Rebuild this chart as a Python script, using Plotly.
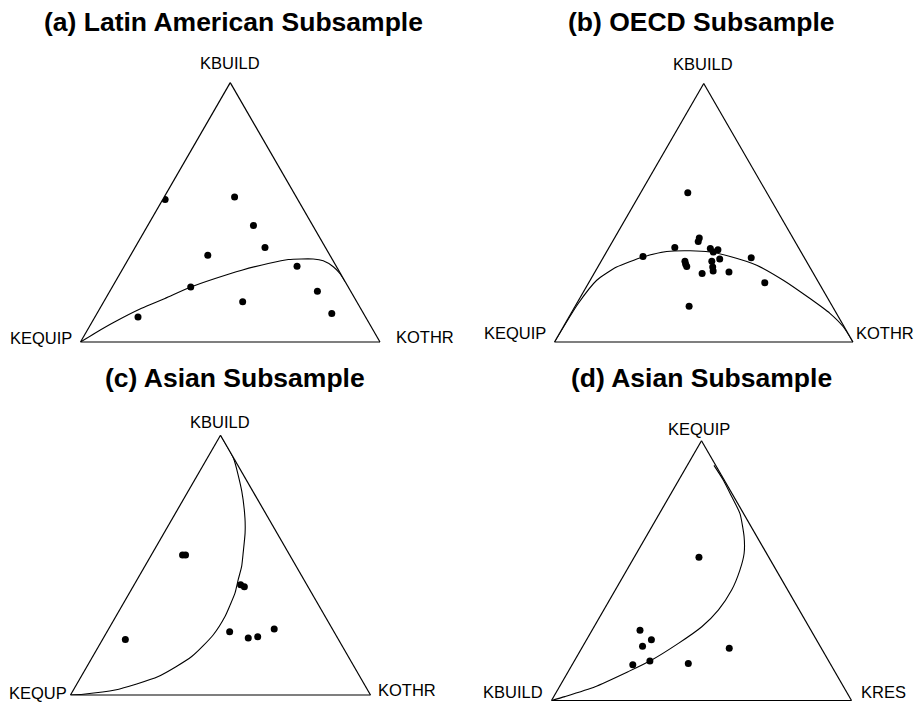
import math
import plotly.graph_objects as go

W_PX, H_PX = 920, 704

# ---------------- data ----------------
TITLES = ["(a) Latin American Subsample", "(b) OECD Subsample",
          "(c) Asian Subsample", "(d) Asian Subsample"]
VERTEX_LABELS = [("KBUILD", "KEQUIP", "KOTHR"),
                 ("KBUILD", "KEQUIP", "KOTHR"),
                 ("KBUILD", "KEQUP", "KOTHR"),
                 ("KEQUIP", "KBUILD", "KRES")]

# (a) Latin American subsample: a=KBUILD, b=KEQUIP, c=KOTHR
pts_a_a = [0.549, 0.559, 0.449, 0.364, 0.334, 0.292, 0.212, 0.155, 0.096, 0.196, 0.110]
pts_a_b = [0.443, 0.206, 0.198, 0.202, 0.408, 0.131, 0.526, 0.381, 0.760, 0.111, 0.106]
pts_a_c = [0.008, 0.235, 0.353, 0.434, 0.258, 0.577, 0.262, 0.464, 0.144, 0.693, 0.784]
crv_a_a = [0, 0.034, 0.078, 0.130, 0.168, 0.212, 0.245, 0.277, 0.303, 0.318, 0.320, 0.313, 0.290, 0.264, 0.233]
crv_a_b = [1, 0.935, 0.846, 0.731, 0.634, 0.526, 0.428, 0.323, 0.222, 0.147, 0.063, 0.033, 0.011, 0.002, 0.0]
crv_a_c = [0, 0.031, 0.076, 0.139, 0.198, 0.262, 0.327, 0.400, 0.476, 0.535, 0.617, 0.654, 0.699, 0.734, 0.767]

# (b) OECD subsample
pts_b_a = [0.577, 0.402, 0.389, 0.366, 0.331, 0.362, 0.357, 0.348, 0.326, 0.321,
           0.312, 0.312, 0.292, 0.290, 0.275, 0.265, 0.271, 0.229, 0.138, 0.301]
pts_b_b = [0.265, 0.314, 0.324, 0.414, 0.538, 0.297, 0.274, 0.294, 0.178, 0.286,
           0.317, 0.407, 0.411, 0.325, 0.331, 0.373, 0.280, 0.181, 0.480, 0.410]
pts_b_c = [0.158, 0.284, 0.287, 0.220, 0.131, 0.341, 0.369, 0.358, 0.496, 0.393,
           0.371, 0.281, 0.297, 0.385, 0.394, 0.362, 0.449, 0.590, 0.382, 0.289]
crv_b_a = [0, 0.149, 0.239, 0.290, 0.329, 0.350, 0.353, 0.348, 0.331, 0.297, 0.239, 0.168, 0.111, 0.059, 0]
crv_b_b = [1, 0.846, 0.739, 0.647, 0.539, 0.449, 0.369, 0.305, 0.246, 0.174, 0.114, 0.060, 0.022, 0.003, 0]
crv_b_c = [0, 0.005, 0.022, 0.063, 0.132, 0.201, 0.278, 0.347, 0.423, 0.529, 0.647, 0.772, 0.867, 0.938, 1]

# (c) Asian subsample
pts_c_a = [0.539, 0.539, 0.424, 0.417, 0.214, 0.243, 0.219, 0.224, 0.254]
pts_c_b = [0.357, 0.347, 0.221, 0.212, 0.711, 0.348, 0.298, 0.264, 0.194]
pts_c_c = [0.104, 0.114, 0.355, 0.371, 0.076, 0.409, 0.483, 0.512, 0.552]
crv_c_a = [1, 0.912, 0.784, 0.681, 0.624, 0.552, 0.495, 0.444, 0.393, 0.346, 0.302, 0.231, 0.148, 0.071, 0.019, 0.003, 0]
crv_c_b = [0, 0.001, 0.037, 0.078, 0.106, 0.148, 0.182, 0.219, 0.255, 0.295, 0.334, 0.409, 0.522, 0.672, 0.842, 0.956, 1]
crv_c_c = [0, 0.087, 0.179, 0.241, 0.270, 0.300, 0.323, 0.337, 0.352, 0.359, 0.364, 0.360, 0.330, 0.257, 0.139, 0.041, 0]

# (d) Asian subsample: a=KEQUIP, b=KBUILD, c=KRES
pts_d_a = [0.551, 0.270, 0.234, 0.209, 0.138, 0.152, 0.142, 0.201]
pts_d_b = [0.233, 0.570, 0.550, 0.592, 0.660, 0.596, 0.473, 0.307]
pts_d_c = [0.216, 0.160, 0.216, 0.199, 0.202, 0.252, 0.385, 0.492]
crv_d_a = [0.905, 0.848, 0.784, 0.720, 0.630, 0.566, 0.502, 0.425, 0.348, 0.284, 0.220, 0.152, 0.111, 0.053, 0.015, 0]
crv_d_b = [0.006, 0.003, 0.007, 0.012, 0.043, 0.075, 0.121, 0.187, 0.270, 0.357, 0.467, 0.596, 0.689, 0.828, 0.948, 1]
crv_d_c = [0.089, 0.149, 0.209, 0.268, 0.327, 0.359, 0.377, 0.388, 0.382, 0.359, 0.313, 0.252, 0.200, 0.119, 0.037, 0]

POINTS = [(pts_a_a, pts_a_b, pts_a_c), (pts_b_a, pts_b_b, pts_b_c),
          (pts_c_a, pts_c_b, pts_c_c), (pts_d_a, pts_d_b, pts_d_c)]
CURVES = [(crv_a_a, crv_a_b, crv_a_c), (crv_b_a, crv_b_b, crv_b_c),
          (crv_c_a, crv_c_b, crv_c_c), (crv_d_a, crv_d_b, crv_d_c)]

# ---------------- layout geometry (pixels) ----------------
# triangle bottom-left x, width, base y
TRI = [(80.5, 299.5, 342.0), (554.5, 298.5, 342.0), (70.5, 300.0, 695.0), (551.5, 300.0, 700.5)]
TITLE_POS = [(234, 22), (701, 22), (234.5, 378), (701.5, 378)]
# label positions: top (cx, cy), left (right edge, cy), right (left edge, cy)
LABEL_POS = [
    ((229.7, 63), (74, 337.5), (394, 336.5)),
    ((703, 64.5), (548.3, 332.5), (854.3, 332.5)),
    ((219.7, 422), (69.3, 692.8), (376, 690.3)),
    ((699, 429), (545, 692), (859, 692)),
]

FONT = "Liberation Sans, Arial, sans-serif"

fig = go.Figure()
layout_updates = {}
annotations = []

def px(x):
    return x / W_PX

def py(y):
    return 1 - y / H_PX

PAD = 3
for i in range(4):
    name = "ternary" if i == 0 else f"ternary{i+1}"
    sub = name
    blx, w, base = TRI[i]
    h = w * math.sqrt(3) / 2
    cy = base - h / 2
    dom_x = [px(blx), px(blx + w)]
    dom_y = [max(0.0, py(cy + h / 2 + PAD)), min(1.0, py(cy - h / 2 - PAD))]
    ax = dict(showgrid=False, showticklabels=False, ticks="", linecolor="black",
              linewidth=1.2, title=dict(text=""), min=0)
    layout_updates[name] = dict(domain=dict(x=dom_x, y=dom_y), sum=1,
                                bgcolor="white", aaxis=ax, baxis=ax, caxis=ax)

    ca, cb, cc = CURVES[i]
    fig.add_trace(go.Scatterternary(a=ca, b=cb, c=cc, mode="lines",
                                    line=dict(color="black", width=1.1, shape="spline", smoothing=0.6),
                                    subplot=sub, showlegend=False, hoverinfo="skip"))
    pa, pb, pc = POINTS[i]
    fig.add_trace(go.Scatterternary(a=pa, b=pb, c=pc, mode="markers",
                                    marker=dict(color="black", size=7),
                                    subplot=sub, showlegend=False))

    tx, ty = TITLE_POS[i]
    annotations.append(dict(text=f"<b>{TITLES[i]}</b>", x=px(tx), y=py(ty), xref="paper", yref="paper",
                            xanchor="center", yanchor="middle", showarrow=False,
                            font=dict(family=FONT, size=26.5, color="black")))
    top, left, right = LABEL_POS[i]
    lt, ll, lr = VERTEX_LABELS[i]
    annotations.append(dict(text=lt, x=px(top[0]), y=py(top[1]), xref="paper", yref="paper",
                            xanchor="center", yanchor="middle", showarrow=False,
                            font=dict(family=FONT, size=16.5, color="black")))
    annotations.append(dict(text=ll, x=px(left[0]), y=py(left[1]), xref="paper", yref="paper",
                            xanchor="right", yanchor="middle", showarrow=False,
                            font=dict(family=FONT, size=16.5, color="black")))
    annotations.append(dict(text=lr, x=px(right[0]), y=py(right[1]), xref="paper", yref="paper",
                            xanchor="left", yanchor="middle", showarrow=False,
                            font=dict(family=FONT, size=16.5, color="black")))

fig.update_layout(width=W_PX, height=H_PX, margin=dict(l=0, r=0, t=0, b=0),
                  paper_bgcolor="white", plot_bgcolor="white",
                  annotations=annotations, **layout_updates)

fig.write_html("out.html", config={"displayModeBar": False},
               post_script="document.body.style.margin='0';document.body.style.overflow='hidden';")
